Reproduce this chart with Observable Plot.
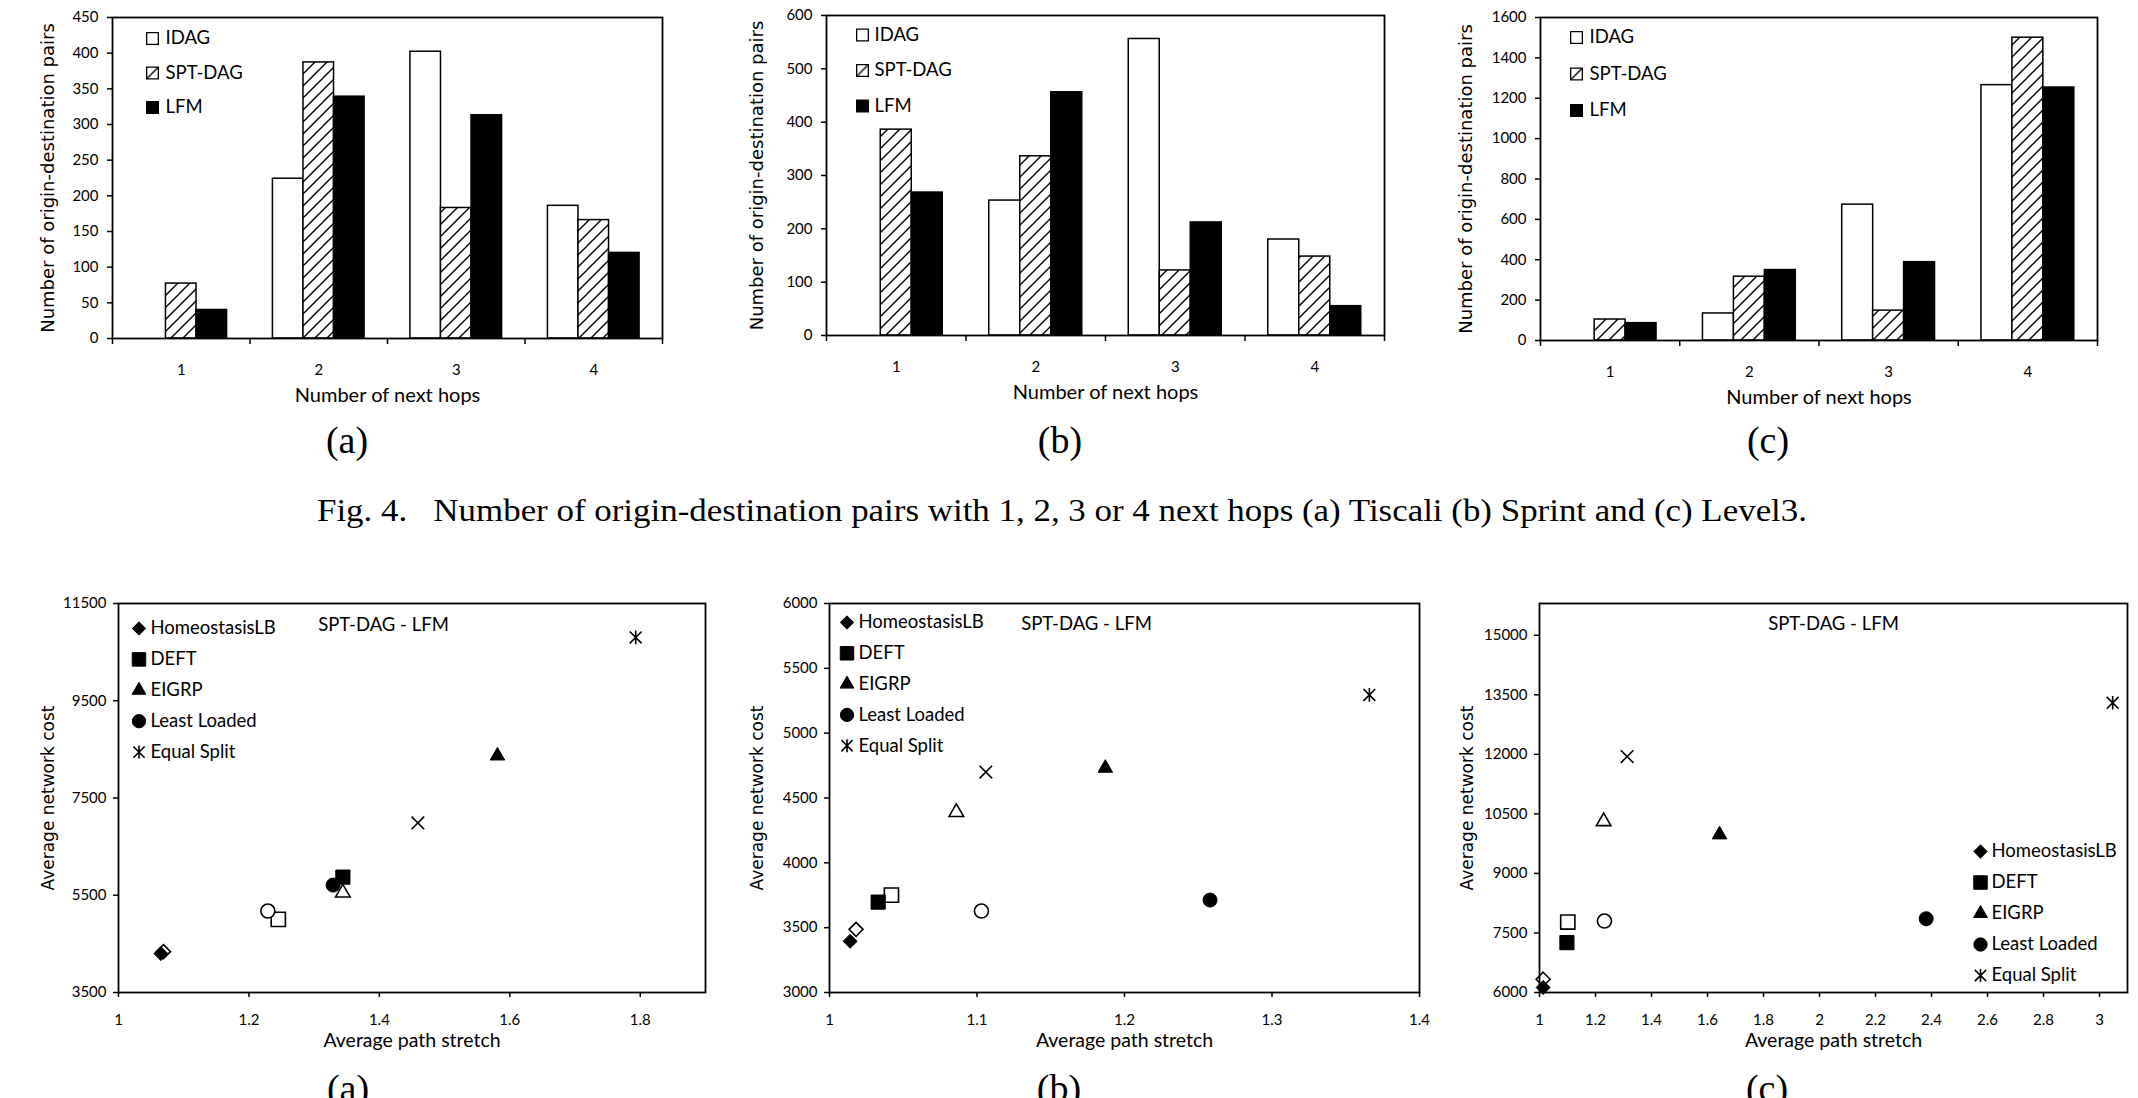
<!DOCTYPE html>
<html>
<head>
<meta charset="utf-8">
<script src="https://cdn.jsdelivr.net/npm/d3@7"></script>
<script src="https://cdn.jsdelivr.net/npm/@observablehq/plot@0.6"></script>
<style>
  html, body { margin: 0; padding: 0; background: #fff; }
  #page { position: relative; width: 2138px; height: 1098px; overflow: hidden; background: #fff; }
  #page svg { position: absolute; }
  .sub { position: absolute; font-family: "Liberation Serif", "Times New Roman", serif; font-size: 38px;
         line-height: 1; white-space: nowrap; transform: translate(-50%, -50%); color: #000; }
  #caption { position: absolute; font-family: "Liberation Serif", "Times New Roman", serif; font-size: 32px;
             line-height: 1; white-space: pre; color: #000; }
</style>
</head>
<body>
<svg width="0" height="0" style="position:absolute">
  <defs>
    <pattern id="hatch" patternUnits="userSpaceOnUse" width="12" height="12">
      <rect width="12" height="12" fill="#fff"></rect>
      <path d="M-1,1 l2,-2 M0,12 l12,-12 M11,13 l2,-2" stroke="#000" stroke-width="1.4"></path>
    </pattern>
  </defs>
</svg>
<div id="page"></div>
<script>
// ---------- next-hop distribution (bar charts) ----------
const hopCounts = [1, 2, 3, 4];
const dagSchemes = ["IDAG", "SPT-DAG", "LFM"];

const tiscaliIDAG   = [0, 224, 402, 186];
const tiscaliSPTDAG = [77, 387, 183, 166];
const tiscaliLFM    = [40, 339, 313, 120];

const sprintIDAG   = [0, 253, 556, 180];
const sprintSPTDAG = [386, 336, 122, 148];
const sprintLFM    = [268, 456, 212, 55];

const level3IDAG   = [0, 134, 673, 1265];
const level3SPTDAG = [104, 316, 148, 1500];
const level3LFM    = [86, 349, 388, 1253];

const tiscaliPairTicks = [0, 50, 100, 150, 200, 250, 300, 350, 400, 450];
const sprintPairTicks  = [0, 100, 200, 300, 400, 500, 600];
const level3PairTicks  = [0, 200, 400, 600, 800, 1000, 1200, 1400, 1600];

// ---------- stretch vs. cost (scatter charts) ----------
const balancers = ["HomeostasisLB", "DEFT", "EIGRP", "Least Loaded", "Equal Split"];

const tiscaliSptStretch = [1.065, 1.344, 1.581, 1.329, 1.793];
const tiscaliSptCost    = [4300, 5873, 8368, 5709, 10803];
const tiscaliLfmStretch = [1.069, 1.245, 1.344, 1.229, 1.459];
const tiscaliLfmCost    = [4340, 5004, 5551, 5175, 6987];

const sprintSptStretch = [1.014, 1.033, 1.187, 1.258, 1.366];
const sprintSptCost    = [3395, 3697, 4731, 3713, 5295];
const sprintLfmStretch = [1.018, 1.042, 1.086, 1.103, 1.106];
const sprintLfmCost    = [3487, 3751, 4390, 3628, 4700];

const level3SptStretch = [1.013, 1.098, 1.643, 2.381, 3.047];
const level3SptCost    = [6126, 7256, 9976, 7858, 13299];
const level3LfmStretch = [1.013, 1.101, 1.229, 1.232, 1.313];
const level3LfmCost    = [6335, 7775, 10311, 7800, 11943];

const tiscaliStretchTicks = [1, 1.2, 1.4, 1.6, 1.8];
const tiscaliCostTicks    = [3500, 5500, 7500, 9500, 11500];
const sprintStretchTicks  = [1, 1.1, 1.2, 1.3, 1.4];
const sprintCostTicks     = [3000, 3500, 4000, 4500, 5000, 5500, 6000];
const level3StretchTicks  = [1, 1.2, 1.4, 1.6, 1.8, 2, 2.2, 2.4, 2.6, 2.8, 3];
const level3CostTicks     = [6000, 7500, 9000, 10500, 12000, 13500, 15000];

// ---------- shared styling ----------
const SANS = "Lato, 'Open Sans', sans-serif";
const WIDE = "'DejaVu Sans', Verdana, sans-serif";
const page = document.getElementById("page");

// Excel-style star (X with a vertical stroke) and plain X markers
const starSymbol = {
  draw(ctx, size) {
    const h = Math.sqrt(size / Math.PI) * 0.85;
    ctx.moveTo(-h, -h); ctx.lineTo(h, h);
    ctx.moveTo(-h, h); ctx.lineTo(h, -h);
    ctx.moveTo(0, -h * 1.15); ctx.lineTo(0, h * 1.15);
  }
};
const crossSymbol = {
  draw(ctx, size) {
    const h = Math.sqrt(size / Math.PI) * 0.9;
    ctx.moveTo(-h, -h); ctx.lineTo(h, h);
    ctx.moveTo(-h, h); ctx.lineTo(h, -h);
  }
};
const solidShapes = ["diamond2", "square", "triangle", "circle", starSymbol];
const openShapes  = ["diamond2", "square", "triangle", "circle", crossSymbol];
const shapeRadius = [6.3, 8, 5.4, 7, 7];
const isLineShape = (i) => i === 4;

const barFills = ["#fff", "url(#hatch)", "#000"];
const fmt = (d) => String(+d.toFixed(2));

function mount(svg, left, top) {
  svg.style.left = left + "px";
  svg.style.top = top + "px";
  page.appendChild(svg);
}

function barPanel(p) {
  const [fl, ft, fw, fh] = p.frame;
  const m = {l: 100, r: 12, t: 12, b: 80};
  const yMax = p.ticks[p.ticks.length - 1];
  const band = 1 / 4.5; // three bars plus 1.5 bar-widths of gap per category
  const marks = [];
  p.series.forEach((values, s) => {
    marks.push(Plot.rect(hopCounts.map((h, i) => ({hop: h, value: values[i]})), {
      x1: (d) => d.hop - 1.5 * band + s * band,
      x2: (d) => d.hop - 1.5 * band + (s + 1) * band,
      y1: 0,
      y2: "value",
      fill: barFills[s],
      stroke: "#000",
      strokeWidth: 1.5
    }));
  });
  dagSchemes.forEach((name, s) => {
    marks.push(Plot.dot([name], {
      frameAnchor: "top-left", dx: p.legend.mx, dy: p.legend.y0 + s * p.legend.step,
      symbol: "square", r: 6.6, fill: barFills[s], stroke: "#000", strokeWidth: 1.3
    }));
    marks.push(Plot.text([name], {
      frameAnchor: "top-left", dx: p.legend.tx, dy: p.legend.y0 + s * p.legend.step,
      text: (d) => d, textAnchor: "start", lineAnchor: "middle", fontSize: 18.5, fill: "#000"
    }));
  });
  const svg = Plot.plot({
    width: fw + m.l + m.r, height: fh + m.t + m.b,
    marginLeft: m.l, marginRight: m.r, marginTop: m.t, marginBottom: m.b,
    style: {fontFamily: SANS, fontSize: "15px", background: "transparent", overflow: "visible", color: "#000"},
    x: {domain: [0.5, 4.5], label: null},
    y: {domain: [0, yMax], label: null},
    marks: [
      ...marks,
      Plot.axisY({ticks: p.ticks, tickSize: 5, tickPadding: 9, tickFormat: (d) => String(d), strokeWidth: 1.5, fontSize: 15, label: null}),
      Plot.axisX({ticks: [0.5, 1.5, 2.5, 3.5, 4.5], tickSize: 6, tickFormat: () => "", strokeWidth: 1.5, label: null}),
      Plot.axisX({ticks: hopCounts, tickSize: 0, tickPadding: 26, tickFormat: (d) => String(d), fontSize: 15, label: null}),
      Plot.text(["Number of origin-destination pairs"], {
        frameAnchor: "left", dx: -p.yLabelOffset, rotate: -90, text: (d) => d,
        fontFamily: WIDE, fontSize: 18, textAnchor: "middle", lineAnchor: "middle", fill: "#000"
      }),
      Plot.text(["Number of next hops"], {
        frameAnchor: "bottom", dy: 57, text: (d) => d, fontSize: 20,
        textAnchor: "middle", lineAnchor: "middle", fill: "#000"
      }),
      Plot.frame({stroke: "#000", strokeWidth: 1.8})
    ]
  });
  mount(svg, fl - m.l, ft - m.t);
}

function scatterPanel(p) {
  const [fl, ft, fw, fh] = p.frame;
  const m = {l: 110, r: 14, t: 12, b: 70};
  const marks = [];
  balancers.forEach((name, i) => {
    const line = isLineShape(i);
    marks.push(Plot.dot([i], {
      x: (k) => p.lfmStretch[k], y: (k) => p.lfmCost[k],
      symbol: openShapes[i], r: shapeRadius[i],
      fill: line ? "none" : "#fff", stroke: "#000", strokeWidth: 1.6
    }));
    marks.push(Plot.dot([i], {
      x: (k) => p.sptStretch[k], y: (k) => p.sptCost[k],
      symbol: solidShapes[i], r: shapeRadius[i],
      fill: line ? "none" : "#000", stroke: "#000", strokeWidth: line ? 1.6 : 1
    }));
    marks.push(Plot.dot([name], {
      frameAnchor: "top-left", dx: p.legend.mx, dy: p.legend.y0 + i * p.legend.step,
      symbol: solidShapes[i], r: shapeRadius[i] * 0.95,
      fill: line ? "none" : "#000", stroke: "#000", strokeWidth: line ? 1.6 : 1
    }));
    marks.push(Plot.text([name], {
      frameAnchor: "top-left", dx: p.legend.tx, dy: p.legend.y0 + i * p.legend.step,
      text: (d) => d, textAnchor: "start", lineAnchor: "middle", fontSize: 18.5, fill: "#000"
    }));
  });
  const svg = Plot.plot({
    width: fw + m.l + m.r, height: fh + m.t + m.b,
    marginLeft: m.l, marginRight: m.r, marginTop: m.t, marginBottom: m.b,
    style: {fontFamily: SANS, fontSize: "15px", background: "transparent", overflow: "visible", color: "#000"},
    x: {domain: p.xDomain, label: null},
    y: {domain: p.yDomain, label: null},
    marks: [
      Plot.axisY({ticks: p.yTicks, tickSize: 5, tickPadding: 7, tickFormat: (d) => String(d), strokeWidth: 1.5, fontSize: 15, label: null}),
      Plot.axisX({ticks: p.xTicks, tickSize: 5, tickPadding: 17, tickFormat: fmt, strokeWidth: 1.5, fontSize: 15, label: null}),
      ...marks,
      Plot.text(["SPT-DAG - LFM"], {
        frameAnchor: "top-left", dx: p.tag.dx, dy: p.tag.dy, text: (d) => d,
        fontSize: 18.5, textAnchor: "middle", lineAnchor: "middle", fill: "#000"
      }),
      Plot.text(["Average network cost"], {
        frameAnchor: "left", dx: -p.yLabelOffset, rotate: -90, text: (d) => d,
        fontFamily: WIDE, fontSize: 17, textAnchor: "middle", lineAnchor: "middle", fill: "#000"
      }),
      Plot.text(["Average path stretch"], {
        frameAnchor: "bottom", dy: 48, text: (d) => d, fontSize: 19.5,
        textAnchor: "middle", lineAnchor: "middle", fill: "#000"
      }),
      Plot.frame({stroke: "#000", strokeWidth: 1.8})
    ]
  });
  mount(svg, fl - m.l, ft - m.t);
}

// ---------- top row: next hops ----------
barPanel({frame: [112, 17, 550, 321], ticks: tiscaliPairTicks,
  series: [tiscaliIDAG, tiscaliSPTDAG, tiscaliLFM], yLabelOffset: 64,
  legend: {mx: 40, tx: 53, y0: 21, step: 34.5}});
barPanel({frame: [826, 15, 558, 320], ticks: sprintPairTicks,
  series: [sprintIDAG, sprintSPTDAG, sprintLFM], yLabelOffset: 69,
  legend: {mx: 36, tx: 48, y0: 19.5, step: 35.5}});
barPanel({frame: [1540, 17, 557, 323], ticks: level3PairTicks,
  series: [level3IDAG, level3SPTDAG, level3LFM], yLabelOffset: 74,
  legend: {mx: 36, tx: 49, y0: 20, step: 36.5}});

// ---------- bottom row: stretch vs. cost ----------
scatterPanel({frame: [118, 603, 587, 389], xDomain: [1, 1.9], yDomain: [3500, 11500],
  xTicks: tiscaliStretchTicks, yTicks: tiscaliCostTicks, yLabelOffset: 70,
  sptStretch: tiscaliSptStretch, sptCost: tiscaliSptCost,
  lfmStretch: tiscaliLfmStretch, lfmCost: tiscaliLfmCost,
  legend: {mx: 20.5, tx: 32, y0: 25, step: 30.9}, tag: {dx: 265, dy: 22}});
scatterPanel({frame: [829, 603, 590, 389], xDomain: [1, 1.4], yDomain: [3000, 6000],
  xTicks: sprintStretchTicks, yTicks: sprintCostTicks, yLabelOffset: 72,
  sptStretch: sprintSptStretch, sptCost: sprintSptCost,
  lfmStretch: sprintLfmStretch, lfmCost: sprintLfmCost,
  legend: {mx: 17.5, tx: 29, y0: 19, step: 30.8}, tag: {dx: 257, dy: 21}});
scatterPanel({frame: [1539, 603, 588, 389], xDomain: [1, 3.1], yDomain: [6000, 15800],
  xTicks: level3StretchTicks, yTicks: level3CostTicks, yLabelOffset: 72,
  sptStretch: level3SptStretch, sptCost: level3SptCost,
  lfmStretch: level3LfmStretch, lfmCost: level3LfmCost,
  legend: {mx: 441, tx: 452, y0: 248, step: 31}, tag: {dx: 294, dy: 21}});

// ---------- sub-figure tags and figure caption ----------
const subTags = [
  ["(a)", 347, 440], ["(b)", 1060, 440], ["(c)", 1768, 440],
  ["(a)", 348, 1088], ["(b)", 1059, 1088], ["(c)", 1767, 1088]
];
subTags.forEach(([t, x, y]) => {
  const d = document.createElement("div");
  d.className = "sub";
  d.textContent = t;
  d.style.left = x + "px";
  d.style.top = y + "px";
  page.appendChild(d);
});

const cap = document.createElement("div");
cap.id = "caption";
cap.textContent = "Fig. 4.   Number of origin-destination pairs with 1, 2, 3 or 4 next hops (a) Tiscali (b) Sprint and (c) Level3.";
cap.style.left = "1062px";
cap.style.top = "510px";
page.appendChild(cap);
const capWidth = cap.getBoundingClientRect().width;
cap.style.transform = `translate(-50%, -50%) scaleX(${1490 / capWidth})`;
</script>
</body>
</html>
